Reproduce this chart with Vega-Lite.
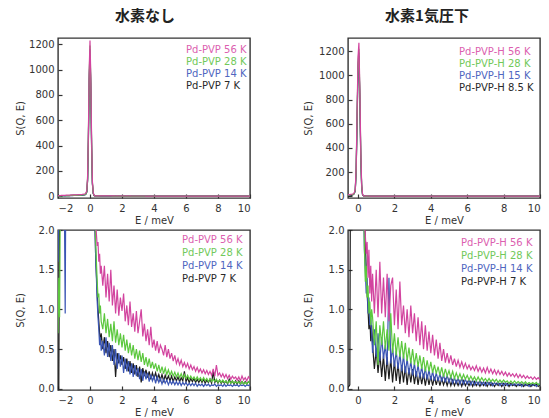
{
  "$schema": "https://vega.github.io/schema/vega-lite/v6.json",
  "padding": {"left": 14, "top": 8, "right": 4, "bottom": 4},
  "background": "white",
  "config": {
    "font": "DejaVu Sans",
    "view": {"stroke": "#333333", "strokeWidth": 1.4},
    "axis": {"grid": false, "domain": false, "tickSize": -4, "tickColor": "#333333", "tickWidth": 1.2, "labelFont": "DejaVu Sans", "labelFontSize": 10, "labelColor": "#333333", "titleFont": "DejaVu Sans", "titleFontSize": 10, "titleFontWeight": "normal", "titleColor": "#333333"},
    "axisX": {"labelPadding": 9, "titlePadding": 2},
    "axisY": {"labelPadding": 8, "titleX": -38, "titleBaseline": "middle"},
    "legend": {"orient": "none", "padding": 0, "symbolSize": 0, "symbolOpacity": 0, "symbolStrokeWidth": 0, "labelOffset": 0, "labelFont": "DejaVu Sans", "labelFontSize": 10, "rowPadding": 2},
    "title": {"font": "Noto Sans CJK JP", "fontSize": 15, "fontWeight": "bold", "color": "#222222", "frame": "group", "baseline": "alphabetic", "offset": 14}
  },
  "datasets": {
    "A": [
      {"E":-2,"m":2.6,"g":0.7,"b":1.6,"k":0},
      {"E":-1.95,"m":3.5,"g":1.4,"b":2.4,"k":0},
      {"E":-1.9,"m":4,"g":0.9,"b":2.8,"k":2.5},
      {"E":-1.85,"m":4,"g":2.6,"b":2.2,"k":3},
      {"E":-1.8,"m":5,"g":2.4,"b":3,"k":3},
      {"E":-1.7,"m":6,"g":3,"b":2.6,"k":3.5},
      {"E":-1.6,"m":6,"g":3.5,"b":2.3,"k":3.5},
      {"E":-1.55,"m":6.5,"g":3.5,"b":0.95,"k":4},
      {"E":-1.5,"m":7,"g":4,"b":3.2,"k":4},
      {"E":-1.4,"m":7,"g":4,"b":3.5,"k":4},
      {"E":-1.3,"m":8,"g":4.5,"b":4,"k":4.5},
      {"E":-1.2,"m":8,"g":5,"b":4,"k":5},
      {"E":-1.1,"m":9,"g":5,"b":4.5,"k":5},
      {"E":-1.0,"m":9,"g":6,"b":5,"k":5.5},
      {"E":-0.9,"m":10,"g":6,"b":5,"k":6},
      {"E":-0.8,"m":10,"g":7,"b":6,"k":6},
      {"E":-0.7,"m":11,"g":7,"b":6,"k":7},
      {"E":-0.6,"m":12,"g":8,"b":7,"k":7},
      {"E":-0.5,"m":13,"g":9,"b":8,"k":8},
      {"E":-0.4,"m":15,"g":11,"b":10,"k":10},
      {"E":-0.3,"m":18,"g":14,"b":12,"k":12},
      {"E":-0.25,"m":25,"g":20,"b":18,"k":17},
      {"E":-0.2,"m":45,"g":38,"b":35,"k":32},
      {"E":-0.15,"m":160,"g":140,"b":130,"k":120},
      {"E":-0.1,"m":500,"g":470,"b":450,"k":430},
      {"E":-0.05,"m":1000,"g":960,"b":930,"k":900},
      {"E":0,"m":1230,"g":1190,"b":1160,"k":1120},
      {"E":0.05,"m":950,"g":910,"b":880,"k":850},
      {"E":0.1,"m":450,"g":420,"b":400,"k":380},
      {"E":0.15,"m":120,"g":110,"b":100,"k":95},
      {"E":0.2,"m":30,"g":26,"b":24,"k":22},
      {"E":0.25,"m":7,"g":6,"b":5.5,"k":5},
      {"E":0.3,"m":2.4,"g":2.3,"b":2.2,"k":2.2},
      {"E":0.35,"m":2.1,"g":1.9,"b":1.7,"k":1.7},
      {"E":0.4,"m":1.95,"g":1.6,"b":1.4,"k":1.45},
      {"E":0.45,"m":1.8,"g":1.35,"b":1.1,"k":1.2},
      {"E":0.5,"m":1.85,"g":1.15,"b":0.9,"k":1.0},
      {"E":0.55,"m":1.6,"g":1.2,"b":0.75,"k":0.85},
      {"E":0.6,"m":1.7,"g":0.95,"b":0.55,"k":0.7},
      {"E":0.65,"m":1.45,"g":1.05,"b":0.65,"k":0.6},
      {"E":0.7,"m":1.55,"g":0.85,"b":0.48,"k":0.7},
      {"E":0.8,"m":1.30,"g":0.75,"b":0.60,"k":0.50},
      {"E":0.9,"m":1.55,"g":0.95,"b":0.42,"k":0.65},
      {"E":1.0,"m":1.15,"g":0.70,"b":0.65,"k":0.45},
      {"E":1.1,"m":1.45,"g":0.88,"b":0.40,"k":0.60},
      {"E":1.2,"m":1.10,"g":0.65,"b":0.58,"k":0.40},
      {"E":1.3,"m":1.50,"g":0.82,"b":0.35,"k":0.55},
      {"E":1.4,"m":1.05,"g":0.60,"b":0.55,"k":0.35},
      {"E":1.5,"m":1.30,"g":0.85,"b":0.30,"k":0.50},
      {"E":1.6,"m":0.95,"g":0.58,"b":0.50,"k":0.15},
      {"E":1.7,"m":1.25,"g":0.75,"b":0.25,"k":0.45},
      {"E":1.8,"m":0.92,"g":0.55,"b":0.45,"k":0.32},
      {"E":1.9,"m":1.15,"g":0.70,"b":0.28,"k":0.42},
      {"E":2.0,"m":0.98,"g":0.52,"b":0.42,"k":0.30},
      {"E":2.1,"m":1.20,"g":0.68,"b":0.20,"k":0.40},
      {"E":2.2,"m":0.85,"g":0.48,"b":0.38,"k":0.25},
      {"E":2.3,"m":1.05,"g":0.62,"b":0.22,"k":0.38},
      {"E":2.4,"m":0.80,"g":0.45,"b":0.35,"k":0.22},
      {"E":2.5,"m":1.10,"g":0.58,"b":0.18,"k":0.35},
      {"E":2.6,"m":0.78,"g":0.42,"b":0.32,"k":0.20},
      {"E":2.7,"m":0.95,"g":0.55,"b":0.15,"k":0.32},
      {"E":2.8,"m":0.72,"g":0.38,"b":0.30,"k":0.18},
      {"E":2.9,"m":0.98,"g":0.50,"b":0.16,"k":0.30},
      {"E":3.0,"m":0.70,"g":0.36,"b":0.26,"k":0.15},
      {"E":3.1,"m":0.85,"g":0.48,"b":0.12,"k":0.28},
      {"E":3.2,"m":1.00,"g":0.34,"b":0.25,"k":0.08},
      {"E":3.3,"m":0.66,"g":0.45,"b":0.10,"k":0.26},
      {"E":3.4,"m":0.82,"g":0.30,"b":0.22,"k":0.16},
      {"E":3.5,"m":0.60,"g":0.40,"b":0.12,"k":0.24},
      {"E":3.6,"m":0.75,"g":0.28,"b":0.20,"k":0.14},
      {"E":3.7,"m":0.55,"g":0.38,"b":0.09,"k":0.22},
      {"E":3.8,"m":0.78,"g":0.26,"b":0.18,"k":0.12},
      {"E":3.9,"m":0.52,"g":0.34,"b":0.10,"k":0.20},
      {"E":4.0,"m":0.62,"g":0.25,"b":0.16,"k":0.13},
      {"E":4.1,"m":0.48,"g":0.32,"b":0.07,"k":0.20},
      {"E":4.2,"m":0.60,"g":0.22,"b":0.15,"k":0.12},
      {"E":4.3,"m":0.45,"g":0.30,"b":0.08,"k":0.18},
      {"E":4.4,"m":0.55,"g":0.20,"b":0.13,"k":0.11},
      {"E":4.5,"m":0.50,"g":0.28,"b":0.06,"k":0.18},
      {"E":4.6,"m":0.42,"g":0.19,"b":0.12,"k":0.10},
      {"E":4.7,"m":0.55,"g":0.26,"b":0.07,"k":0.17},
      {"E":4.8,"m":0.40,"g":0.18,"b":0.11,"k":0.11},
      {"E":4.9,"m":0.50,"g":0.24,"b":0.05,"k":0.16},
      {"E":5.0,"m":0.38,"g":0.17,"b":0.10,"k":0.10},
      {"E":5.1,"m":0.45,"g":0.22,"b":0.06,"k":0.16},
      {"E":5.2,"m":0.35,"g":0.16,"b":0.10,"k":0.09},
      {"E":5.3,"m":0.42,"g":0.21,"b":0.05,"k":0.15},
      {"E":5.4,"m":0.32,"g":0.15,"b":0.09,"k":0.10},
      {"E":5.5,"m":0.38,"g":0.20,"b":0.05,"k":0.15},
      {"E":5.6,"m":0.30,"g":0.14,"b":0.09,"k":0.09},
      {"E":5.7,"m":0.36,"g":0.19,"b":0.04,"k":0.14},
      {"E":5.8,"m":0.28,"g":0.14,"b":0.08,"k":0.10},
      {"E":5.9,"m":0.33,"g":0.18,"b":0.05,"k":0.22},
      {"E":6.0,"m":0.27,"g":0.13,"b":0.08,"k":0.09},
      {"E":6.1,"m":0.32,"g":0.17,"b":0.04,"k":0.14},
      {"E":6.2,"m":0.25,"g":0.12,"b":0.07,"k":0.08},
      {"E":6.3,"m":0.30,"g":0.16,"b":0.04,"k":0.13},
      {"E":6.4,"m":0.24,"g":0.12,"b":0.07,"k":0.09},
      {"E":6.5,"m":0.28,"g":0.15,"b":0.04,"k":0.13},
      {"E":6.6,"m":0.22,"g":0.11,"b":0.07,"k":0.08},
      {"E":6.7,"m":0.27,"g":0.15,"b":0.03,"k":0.12},
      {"E":6.8,"m":0.21,"g":0.11,"b":0.06,"k":0.08},
      {"E":6.9,"m":0.25,"g":0.14,"b":0.04,"k":0.12},
      {"E":7.0,"m":0.20,"g":0.10,"b":0.06,"k":0.08},
      {"E":7.1,"m":0.24,"g":0.14,"b":0.03,"k":0.12},
      {"E":7.2,"m":0.19,"g":0.10,"b":0.06,"k":0.07},
      {"E":7.3,"m":0.23,"g":0.13,"b":0.04,"k":0.11},
      {"E":7.4,"m":0.18,"g":0.09,"b":0.06,"k":0.08},
      {"E":7.5,"m":0.22,"g":0.13,"b":0.03,"k":0.12},
      {"E":7.6,"m":0.17,"g":0.09,"b":0.05,"k":0.07},
      {"E":7.7,"m":0.25,"g":0.12,"b":0.04,"k":0.22},
      {"E":7.8,"m":0.16,"g":0.09,"b":0.06,"k":0.08},
      {"E":7.9,"m":0.30,"g":0.12,"b":0.03,"k":0.11},
      {"E":8.0,"m":0.17,"g":0.08,"b":0.05,"k":0.07},
      {"E":8.1,"m":0.20,"g":0.11,"b":0.04,"k":0.11},
      {"E":8.2,"m":0.15,"g":0.08,"b":0.05,"k":0.07},
      {"E":8.3,"m":0.19,"g":0.11,"b":0.03,"k":0.10},
      {"E":8.4,"m":0.14,"g":0.08,"b":0.06,"k":0.07},
      {"E":8.5,"m":0.18,"g":0.10,"b":0.03,"k":0.10},
      {"E":8.6,"m":0.13,"g":0.07,"b":0.05,"k":0.06},
      {"E":8.7,"m":0.17,"g":0.10,"b":0.04,"k":0.12},
      {"E":8.8,"m":0.12,"g":0.07,"b":0.05,"k":0.07},
      {"E":8.9,"m":0.16,"g":0.10,"b":0.03,"k":0.10},
      {"E":9.0,"m":0.13,"g":0.07,"b":0.05,"k":0.06},
      {"E":9.1,"m":0.15,"g":0.09,"b":0.04,"k":0.10},
      {"E":9.2,"m":0.11,"g":0.07,"b":0.05,"k":0.06},
      {"E":9.3,"m":0.15,"g":0.09,"b":0.03,"k":0.10},
      {"E":9.4,"m":0.10,"g":0.06,"b":0.05,"k":0.06},
      {"E":9.5,"m":0.16,"g":0.09,"b":0.04,"k":0.09},
      {"E":9.6,"m":0.11,"g":0.06,"b":0.05,"k":0.06},
      {"E":9.7,"m":0.14,"g":0.08,"b":0.03,"k":0.09},
      {"E":9.8,"m":0.10,"g":0.06,"b":0.05,"k":0.06},
      {"E":9.9,"m":0.15,"g":0.09,"b":0.04,"k":0.09},
      {"E":10.0,"m":0.12,"g":0.07,"b":0.05,"k":0.07}
    ],
    "H": [
      {"E":-0.55,"m":12,"g":10,"b":9,"k":0.02},
      {"E":-0.5,"m":13,"g":11,"b":10,"k":0.03},
      {"E":-0.45,"m":14,"g":12,"b":11,"k":0.05},
      {"E":-0.4,"m":15,"g":13,"b":12,"k":4},
      {"E":-0.35,"m":16,"g":14,"b":13,"k":8},
      {"E":-0.3,"m":18,"g":15,"b":14,"k":10},
      {"E":-0.25,"m":20,"g":17,"b":16,"k":13},
      {"E":-0.2,"m":30,"g":26,"b":24,"k":22},
      {"E":-0.15,"m":60,"g":55,"b":50,"k":48},
      {"E":-0.1,"m":250,"g":230,"b":220,"k":210},
      {"E":-0.05,"m":700,"g":660,"b":640,"k":620},
      {"E":0,"m":1150,"g":1100,"b":1080,"k":1050},
      {"E":0.05,"m":1270,"g":1220,"b":1190,"k":1160},
      {"E":0.1,"m":900,"g":860,"b":830,"k":800},
      {"E":0.15,"m":400,"g":370,"b":350,"k":330},
      {"E":0.2,"m":100,"g":90,"b":85,"k":80},
      {"E":0.25,"m":15,"g":13,"b":12,"k":11},
      {"E":0.3,"m":2.6,"g":2.5,"b":2.4,"k":2.3},
      {"E":0.35,"m":2.1,"g":1.8,"b":1.75,"k":2.1},
      {"E":0.4,"m":1.95,"g":1.35,"b":1.5,"k":1.9},
      {"E":0.45,"m":1.7,"g":1.55,"b":1.2,"k":1.5},
      {"E":0.5,"m":1.85,"g":1.15,"b":1.4,"k":1.2},
      {"E":0.55,"m":1.4,"g":1.3,"b":0.95,"k":1.0},
      {"E":0.6,"m":1.75,"g":0.95,"b":1.15,"k":0.75},
      {"E":0.65,"m":1.2,"g":1.1,"b":0.8,"k":0.9},
      {"E":0.7,"m":1.55,"g":0.8,"b":0.9,"k":0.6},
      {"E":0.75,"m":1.1,"g":1.0,"b":0.7,"k":0.8},
      {"E":0.8,"m":1.45,"g":0.90,"b":0.45,"k":0.55},
      {"E":0.9,"m":0.95,"g":0.55,"b":0.75,"k":0.25},
      {"E":1.0,"m":1.50,"g":0.85,"b":0.40,"k":0.50},
      {"E":1.1,"m":0.90,"g":0.30,"b":0.70,"k":0.20},
      {"E":1.2,"m":1.60,"g":0.80,"b":0.35,"k":0.45},
      {"E":1.3,"m":0.95,"g":0.55,"b":0.65,"k":0.15},
      {"E":1.4,"m":1.40,"g":0.85,"b":0.38,"k":0.42},
      {"E":1.5,"m":0.90,"g":0.50,"b":0.55,"k":0.10},
      {"E":1.6,"m":1.45,"g":0.75,"b":0.30,"k":0.40},
      {"E":1.7,"m":0.85,"g":0.48,"b":1.40,"k":0.12},
      {"E":1.8,"m":1.30,"g":0.95,"b":0.32,"k":0.38},
      {"E":1.9,"m":1.40,"g":0.45,"b":0.52,"k":0.08},
      {"E":2.0,"m":0.80,"g":0.70,"b":0.28,"k":0.35},
      {"E":2.1,"m":1.25,"g":0.42,"b":0.48,"k":0.10},
      {"E":2.2,"m":0.75,"g":0.65,"b":0.25,"k":0.32},
      {"E":2.3,"m":1.35,"g":0.40,"b":0.45,"k":0.06},
      {"E":2.4,"m":0.80,"g":0.60,"b":0.22,"k":0.30},
      {"E":2.5,"m":1.05,"g":0.38,"b":0.42,"k":0.08},
      {"E":2.6,"m":0.70,"g":0.58,"b":0.20,"k":0.28},
      {"E":2.7,"m":1.00,"g":0.35,"b":0.38,"k":0.05},
      {"E":2.8,"m":0.65,"g":0.52,"b":0.18,"k":0.26},
      {"E":2.9,"m":1.05,"g":0.32,"b":0.35,"k":0.08},
      {"E":3.0,"m":0.70,"g":0.50,"b":0.17,"k":0.25},
      {"E":3.1,"m":0.95,"g":0.30,"b":0.32,"k":0.06},
      {"E":3.2,"m":0.60,"g":0.45,"b":0.15,"k":0.22},
      {"E":3.3,"m":0.90,"g":0.28,"b":0.30,"k":0.05},
      {"E":3.4,"m":0.55,"g":0.42,"b":0.14,"k":0.20},
      {"E":3.5,"m":0.85,"g":0.25,"b":0.28,"k":0.06},
      {"E":3.6,"m":0.50,"g":0.40,"b":0.13,"k":0.19},
      {"E":3.7,"m":0.80,"g":0.22,"b":0.26,"k":0.04},
      {"E":3.8,"m":0.48,"g":0.36,"b":0.12,"k":0.18},
      {"E":3.9,"m":0.72,"g":0.22,"b":0.24,"k":0.05},
      {"E":4.0,"m":0.45,"g":0.34,"b":0.11,"k":0.16},
      {"E":4.1,"m":0.68,"g":0.20,"b":0.22,"k":0.04},
      {"E":4.2,"m":0.42,"g":0.30,"b":0.10,"k":0.15},
      {"E":4.3,"m":0.62,"g":0.19,"b":0.20,"k":0.05},
      {"E":4.4,"m":0.38,"g":0.28,"b":0.10,"k":0.14},
      {"E":4.5,"m":0.58,"g":0.17,"b":0.19,"k":0.04},
      {"E":4.6,"m":0.35,"g":0.27,"b":0.09,"k":0.13},
      {"E":4.7,"m":0.50,"g":0.15,"b":0.18,"k":0.05},
      {"E":4.8,"m":0.33,"g":0.25,"b":0.08,"k":0.12},
      {"E":4.9,"m":0.45,"g":0.16,"b":0.17,"k":0.04},
      {"E":5.0,"m":0.32,"g":0.23,"b":0.08,"k":0.12},
      {"E":5.1,"m":0.42,"g":0.14,"b":0.15,"k":0.04},
      {"E":5.2,"m":0.30,"g":0.22,"b":0.07,"k":0.11},
      {"E":5.3,"m":0.38,"g":0.13,"b":0.14,"k":0.04},
      {"E":5.4,"m":0.28,"g":0.20,"b":0.07,"k":0.10},
      {"E":5.5,"m":0.36,"g":0.13,"b":0.13,"k":0.04},
      {"E":5.6,"m":0.27,"g":0.19,"b":0.06,"k":0.10},
      {"E":5.7,"m":0.34,"g":0.12,"b":0.13,"k":0.03},
      {"E":5.8,"m":0.26,"g":0.18,"b":0.06,"k":0.10},
      {"E":5.9,"m":0.32,"g":0.12,"b":0.12,"k":0.04},
      {"E":6.0,"m":0.25,"g":0.17,"b":0.06,"k":0.09},
      {"E":6.1,"m":0.30,"g":0.11,"b":0.11,"k":0.04},
      {"E":6.2,"m":0.24,"g":0.16,"b":0.05,"k":0.09},
      {"E":6.3,"m":0.28,"g":0.11,"b":0.11,"k":0.03},
      {"E":6.4,"m":0.23,"g":0.15,"b":0.05,"k":0.09},
      {"E":6.5,"m":0.29,"g":0.10,"b":0.10,"k":0.04},
      {"E":6.6,"m":0.22,"g":0.15,"b":0.05,"k":0.08},
      {"E":6.7,"m":0.27,"g":0.10,"b":0.10,"k":0.03},
      {"E":6.8,"m":0.21,"g":0.14,"b":0.05,"k":0.08},
      {"E":6.9,"m":0.26,"g":0.10,"b":0.09,"k":0.04},
      {"E":7.0,"m":0.20,"g":0.13,"b":0.04,"k":0.08},
      {"E":7.1,"m":0.27,"g":0.09,"b":0.09,"k":0.03},
      {"E":7.2,"m":0.20,"g":0.13,"b":0.05,"k":0.08},
      {"E":7.3,"m":0.25,"g":0.09,"b":0.09,"k":0.04},
      {"E":7.4,"m":0.19,"g":0.12,"b":0.04,"k":0.07},
      {"E":7.5,"m":0.24,"g":0.09,"b":0.08,"k":0.03},
      {"E":7.6,"m":0.18,"g":0.12,"b":0.05,"k":0.07},
      {"E":7.7,"m":0.23,"g":0.08,"b":0.08,"k":0.04},
      {"E":7.8,"m":0.18,"g":0.11,"b":0.04,"k":0.07},
      {"E":7.9,"m":0.22,"g":0.08,"b":0.08,"k":0.03},
      {"E":8.0,"m":0.17,"g":0.11,"b":0.04,"k":0.07},
      {"E":8.1,"m":0.21,"g":0.08,"b":0.08,"k":0.04},
      {"E":8.2,"m":0.16,"g":0.10,"b":0.04,"k":0.07},
      {"E":8.3,"m":0.20,"g":0.07,"b":0.07,"k":0.03},
      {"E":8.4,"m":0.16,"g":0.10,"b":0.04,"k":0.07},
      {"E":8.5,"m":0.19,"g":0.07,"b":0.07,"k":0.04},
      {"E":8.6,"m":0.15,"g":0.10,"b":0.04,"k":0.06},
      {"E":8.7,"m":0.19,"g":0.07,"b":0.07,"k":0.03},
      {"E":8.8,"m":0.14,"g":0.09,"b":0.04,"k":0.06},
      {"E":8.9,"m":0.18,"g":0.07,"b":0.07,"k":0.04},
      {"E":9.0,"m":0.14,"g":0.09,"b":0.03,"k":0.06},
      {"E":9.1,"m":0.17,"g":0.06,"b":0.07,"k":0.03},
      {"E":9.2,"m":0.13,"g":0.09,"b":0.04,"k":0.06},
      {"E":9.3,"m":0.16,"g":0.06,"b":0.06,"k":0.04},
      {"E":9.4,"m":0.13,"g":0.08,"b":0.03,"k":0.06},
      {"E":9.5,"m":0.15,"g":0.06,"b":0.06,"k":0.03},
      {"E":9.6,"m":0.12,"g":0.08,"b":0.04,"k":0.06},
      {"E":9.7,"m":0.15,"g":0.06,"b":0.06,"k":0.04},
      {"E":9.8,"m":0.12,"g":0.08,"b":0.03,"k":0.06},
      {"E":9.9,"m":0.14,"g":0.05,"b":0.06,"k":0.03},
      {"E":10.0,"m":0.11,"g":0.07,"b":0.05,"k":0.05}
    ]
  },
  "columns": 2,
  "spacing": {"row": 32, "column": 98},
  "bounds": "flush",
  "resolve": {"scale": {"x": "independent", "y": "independent", "color": "independent"}, "legend": {"color": "independent"}},
  "concat": [
    {
      "title": {"text": "水素なし", "dx": -9},
      "width": 192, "height": 160,
      "data": {"name": "A"},
      "transform": [{"fold": ["k", "b", "g", "m"], "as": ["s", "S"]}],
      "mark": {"type": "line", "clip": true, "strokeWidth": 1.2},
      "encoding": {
        "x": {"field": "E", "type": "quantitative", "scale": {"domain": [-2, 10], "nice": false, "zero": false}, "axis": {"title": "E / meV", "values": [-2, 0, 2, 4, 6, 8, 10]}},
        "y": {"field": "S", "type": "quantitative", "scale": {"domain": [-15, 1250], "nice": false}, "axis": {"title": "S(Q, E)", "format": "d", "values": [0, 200, 400, 600, 800, 1000, 1200]}},
        "color": {"field": "s", "type": "nominal", "scale": {"domain": ["m", "g", "b", "k"], "range": ["#d2449f", "#5cc83e", "#3a55b4", "#1c1c1c"]},
          "legend": {"title": null, "legendX": 118, "legendY": 7,
            "labelExpr": "datum.label==='m'?'Pd-PVP 56 K':datum.label==='g'?'Pd-PVP 28 K':datum.label==='b'?'Pd-PVP 14 K':'Pd-PVP 7 K'",
            "encode": {"labels": {"update": {"fill": {"signal": "datum.value==='m'?'#dc5fb0':datum.value==='g'?'#72c95a':datum.value==='b'?'#5066c0':'#2a2a2a'"}}}}}}
      }
    },
    {
      "title": {"text": "水素1気圧下", "dx": -17},
      "width": 192, "height": 160,
      "data": {"name": "H"},
      "transform": [{"fold": ["k", "b", "g", "m"], "as": ["s", "S"]}],
      "mark": {"type": "line", "clip": true, "strokeWidth": 1.2},
      "encoding": {
        "x": {"field": "E", "type": "quantitative", "scale": {"domain": [-0.55, 10], "nice": false, "zero": false}, "axis": {"title": "E / meV", "values": [0, 2, 4, 6, 8, 10]}},
        "y": {"field": "S", "type": "quantitative", "scale": {"domain": [-15, 1310], "nice": false}, "axis": {"title": "S(Q, E)", "format": "d", "titleX": -40, "values": [0, 200, 400, 600, 800, 1000, 1200]}},
        "color": {"field": "s", "type": "nominal", "scale": {"domain": ["m", "g", "b", "k"], "range": ["#d2449f", "#5cc83e", "#3a55b4", "#1c1c1c"]},
          "legend": {"title": null, "legendX": 101, "legendY": 9,
            "labelExpr": "datum.label==='m'?'Pd-PVP-H 56 K':datum.label==='g'?'Pd-PVP-H 28 K':datum.label==='b'?'Pd-PVP-H 15 K':'Pd-PVP-H 8.5 K'",
            "encode": {"labels": {"update": {"fill": {"signal": "datum.value==='m'?'#dc5fb0':datum.value==='g'?'#72c95a':datum.value==='b'?'#5066c0':'#2a2a2a'"}}}}}}
      }
    },
    {
      "width": 192, "height": 160,
      "data": {"name": "A"},
      "transform": [{"fold": ["k", "b", "g", "m"], "as": ["s", "S"]}],
      "mark": {"type": "line", "clip": true, "strokeWidth": 1.2},
      "encoding": {
        "x": {"field": "E", "type": "quantitative", "scale": {"domain": [-2, 10], "nice": false, "zero": false}, "axis": {"title": "E / meV", "values": [-2, 0, 2, 4, 6, 8, 10]}},
        "y": {"field": "S", "type": "quantitative", "scale": {"domain": [-0.015, 2.0], "nice": false}, "axis": {"title": "S(Q, E)", "format": ".1f", "values": [0, 0.5, 1, 1.5, 2]}},
        "color": {"field": "s", "type": "nominal", "scale": {"domain": ["m", "g", "b", "k"], "range": ["#d2449f", "#5cc83e", "#3a55b4", "#1c1c1c"]},
          "legend": {"title": null, "legendX": 114, "legendY": 5, "rowPadding": 3,
            "labelExpr": "datum.label==='m'?'Pd-PVP 56 K':datum.label==='g'?'Pd-PVP 28 K':datum.label==='b'?'Pd-PVP 14 K':'Pd-PVP 7 K'",
            "encode": {"labels": {"update": {"fill": {"signal": "datum.value==='m'?'#dc5fb0':datum.value==='g'?'#72c95a':datum.value==='b'?'#5066c0':'#2a2a2a'"}}}}}}
      }
    },
    {
      "width": 192, "height": 160,
      "data": {"name": "H"},
      "transform": [{"fold": ["k", "b", "g", "m"], "as": ["s", "S"]}],
      "mark": {"type": "line", "clip": true, "strokeWidth": 1.2},
      "encoding": {
        "x": {"field": "E", "type": "quantitative", "scale": {"domain": [-0.55, 10], "nice": false, "zero": false}, "axis": {"title": "E / meV", "values": [0, 2, 4, 6, 8, 10]}},
        "y": {"field": "S", "type": "quantitative", "scale": {"domain": [-0.015, 2.0], "nice": false}, "axis": {"title": "S(Q, E)", "titleX": -40, "format": ".1f", "values": [0, 0.5, 1, 1.5, 2]}},
        "color": {"field": "s", "type": "nominal", "scale": {"domain": ["m", "g", "b", "k"], "range": ["#d2449f", "#5cc83e", "#3a55b4", "#1c1c1c"]},
          "legend": {"title": null, "legendX": 103, "legendY": 8, "rowPadding": 3,
            "labelExpr": "datum.label==='m'?'Pd-PVP-H 56 K':datum.label==='g'?'Pd-PVP-H 28 K':datum.label==='b'?'Pd-PVP-H 14 K':'Pd-PVP-H 7 K'",
            "encode": {"labels": {"update": {"fill": {"signal": "datum.value==='m'?'#dc5fb0':datum.value==='g'?'#72c95a':datum.value==='b'?'#5066c0':'#2a2a2a'"}}}}}}
      }
    }
  ]
}
